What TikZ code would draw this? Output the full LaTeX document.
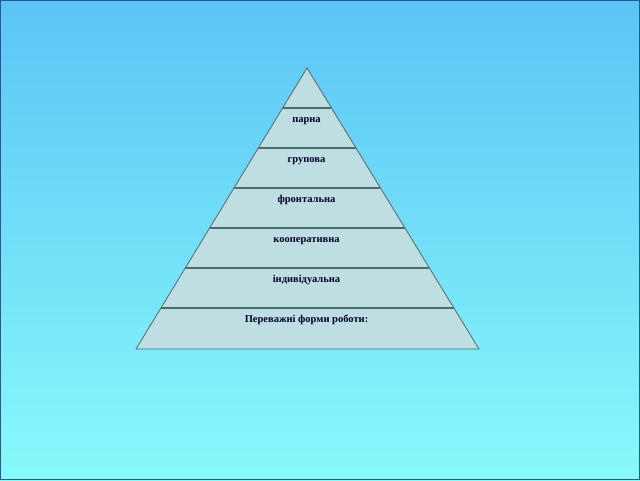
\documentclass[tikz,border=0pt]{standalone}
\usepackage{fontspec}
\setmainfont{Liberation Serif}
\usetikzlibrary{calc}
\usetikzlibrary{positioning}
\definecolor{skytop}{RGB}{92,196,246}
\definecolor{skybot}{RGB}{136,250,250}
\definecolor{stone}{RGB}{190,222,226}
\definecolor{edge}{RGB}{80,105,112}
\definecolor{frame}{RGB}{40,90,140}

\begin{document}
\begin{tikzpicture}[x=1pt,y=-1pt]
\tikzstyle{band}=[font=\bfseries\fontsize{10.5}{12}\selectfont,text=black!85!blue,inner sep=0pt,anchor=base]
\tikzstyle{cut}=[draw=edge,line width=1.6pt]
%fond
\useasboundingbox (0,0) rectangle (640,480);
\shade[top color=skytop,bottom color=skybot] (0,0) rectangle (640,480);
\draw[frame,line width=1pt] (0.5,0.5) rectangle (639.5,479.5);
%pyramide
\coordinate (apex) at (307,68);
\coordinate (bl) at (136,349);
\coordinate (br) at (479,349);
\filldraw[fill=stone,draw=edge,line width=0.8pt] (apex) -- (bl) -- (br) -- cycle;
\draw[cut] ($(apex)!0.1423!(bl)$) -- ($(apex)!0.1423!(br)$);
\draw[cut] ($(apex)!0.2847!(bl)$) -- ($(apex)!0.2847!(br)$);
\draw[cut] ($(apex)!0.4270!(bl)$) -- ($(apex)!0.4270!(br)$);
\draw[cut] ($(apex)!0.5694!(bl)$) -- ($(apex)!0.5694!(br)$);
\draw[cut] ($(apex)!0.7117!(bl)$) -- ($(apex)!0.7117!(br)$);
\draw[cut] ($(apex)!0.8541!(bl)$) -- ($(apex)!0.8541!(br)$);
%textes
\node[band] (parna) at (306.5,122.5) {парна};
\node[band] (grupova) at (306.5,162.5) {групова};
\node[band] (front) at (306.5,202.5) {фронтальна};
\node[band] (koop) at (306.5,242.5) {кооперативна};
\node[band] (indiv) at (306.5,282.5) {індивідуальна};
\node[band] (formy) at (306.5,322.5) {Переважні форми роботи:};
\end{tikzpicture}
\end{document}
